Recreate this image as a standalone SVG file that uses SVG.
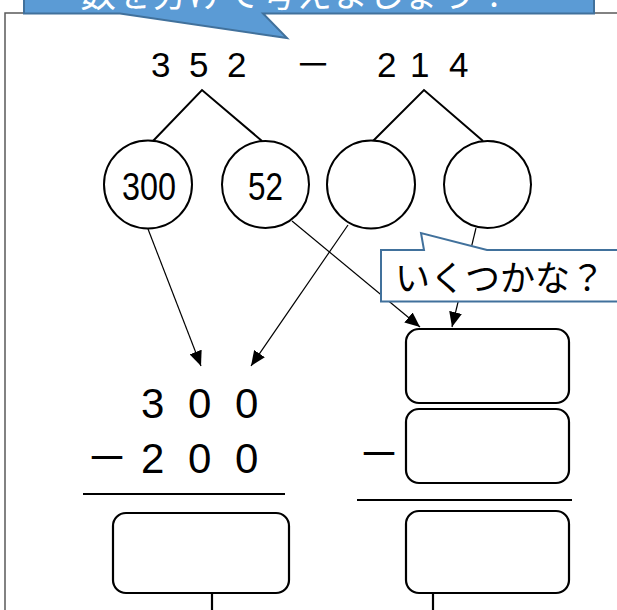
<svg xmlns="http://www.w3.org/2000/svg" width="617" height="610" viewBox="0 0 617 610">
<style>
.frame{fill:none;stroke:#595959;stroke-width:1.5}
.tree{fill:none;stroke:#000;stroke-width:2}
.circ{fill:#fff;stroke:#000;stroke-width:2}
.box{fill:#fff;stroke:#000;stroke-width:2.2}
.rule{stroke:#000;stroke-width:2.2}
.conn{fill:none;stroke:#000;stroke-width:1.2}
.num{font-family:"Liberation Sans",Arial,sans-serif;fill:#000}
.narrow{font-family:"Liberation Sans",Arial,sans-serif;font-size:39px;fill:#000}
.jp{font-family:"Noto Sans CJK JP","Noto Sans",sans-serif;fill:#000}
</style>
<defs>
<marker id="ah" markerUnits="userSpaceOnUse" markerWidth="15" markerHeight="13" refX="15" refY="6.5" orient="auto">
<path d="M0,0 L15,6.5 L0,13 z" fill="#000"/>
</marker>
</defs>
<rect width="617" height="610" fill="#fff"/>
<g id="frame"><rect class="frame" x="5" y="13" width="700" height="700"/></g>

<g id="expr">
<text class="num" font-size="35" x="151 189 227" y="77">352</text>
<text class="jp" font-size="36" x="295" y="78">－</text>
<text class="num" font-size="35" x="377 410 449" y="77">214</text>
</g>

<g id="trees">
<path class="tree" d="M153,141 L202,90 L262,141"/>
<path class="tree" d="M373,141 L424,90 L483,141"/>
</g>

<g id="connectors">
<line class="conn" x1="148" y1="229" x2="201" y2="366" marker-end="url(#ah)"/>
<line class="conn" x1="348" y1="225" x2="251" y2="366" marker-end="url(#ah)"/>
<line class="conn" x1="292" y1="221" x2="420" y2="327" marker-end="url(#ah)"/>
<line class="conn" x1="476" y1="228" x2="452" y2="327" marker-end="url(#ah)"/>
</g>

<g id="c300"><circle class="circ" cx="148" cy="184.5" r="44"/><text class="narrow" x="149" y="200" text-anchor="middle" textLength="54" lengthAdjust="spacingAndGlyphs">300</text></g>
<g id="c52"><circle class="circ" cx="265.5" cy="184.5" r="43.5"/><text class="narrow" x="265.5" y="200" text-anchor="middle" textLength="35" lengthAdjust="spacingAndGlyphs">52</text></g>
<g id="c3"><circle class="circ" cx="371" cy="184.5" r="44"/></g>
<g id="c4"><circle class="circ" cx="487.5" cy="184.5" r="43.5"/></g>

<g id="callout2">
<path d="M381,250 L424,250 L421,233 L487,250 L640,250 L640,301.5 L381,301.5 Z" fill="#fff" stroke="#41719C" stroke-width="2"/>
<text class="jp" font-size="35" x="395" y="291">いくつかな？</text>
</g>

<g id="left-calc">
<text class="num" font-size="42" x="141 188 235" y="418">300</text>
<text class="jp" font-size="42" x="86" y="473">－</text>
<text class="num" font-size="42" x="141 188 235" y="473">200</text>
<line class="rule" x1="83" y1="494" x2="285" y2="494"/>
</g>
<g id="left-answer"><rect class="box" x="113" y="513" width="176" height="80" rx="13"/><line class="rule" x1="212" y1="593" x2="212" y2="612"/></g>

<g id="right-box1"><rect class="box" x="406" y="329" width="163" height="74" rx="13"/></g>
<g id="right-box2"><rect class="box" x="406" y="409" width="163" height="74" rx="13"/></g>
<g id="right-calc">
<text class="jp" font-size="42" x="358" y="469">－</text>
<line class="rule" x1="357" y1="500" x2="572" y2="500"/>
</g>
<g id="right-answer"><rect class="box" x="406" y="511" width="163" height="82" rx="13"/><line class="rule" x1="433" y1="593" x2="433" y2="612"/></g>

<g id="callout1">
<path d="M24,-20 L594,-20 L594,13.5 L263,13.5 L287,38 L120,13.5 L24,13.5 Z" fill="#5B9BD5" stroke="#41719C" stroke-width="2"/>
<text class="jp" font-size="36" x="80" y="7" fill="#fff" style="fill:#fff">数を分けて考えましょう！</text>
</g>
</svg>
